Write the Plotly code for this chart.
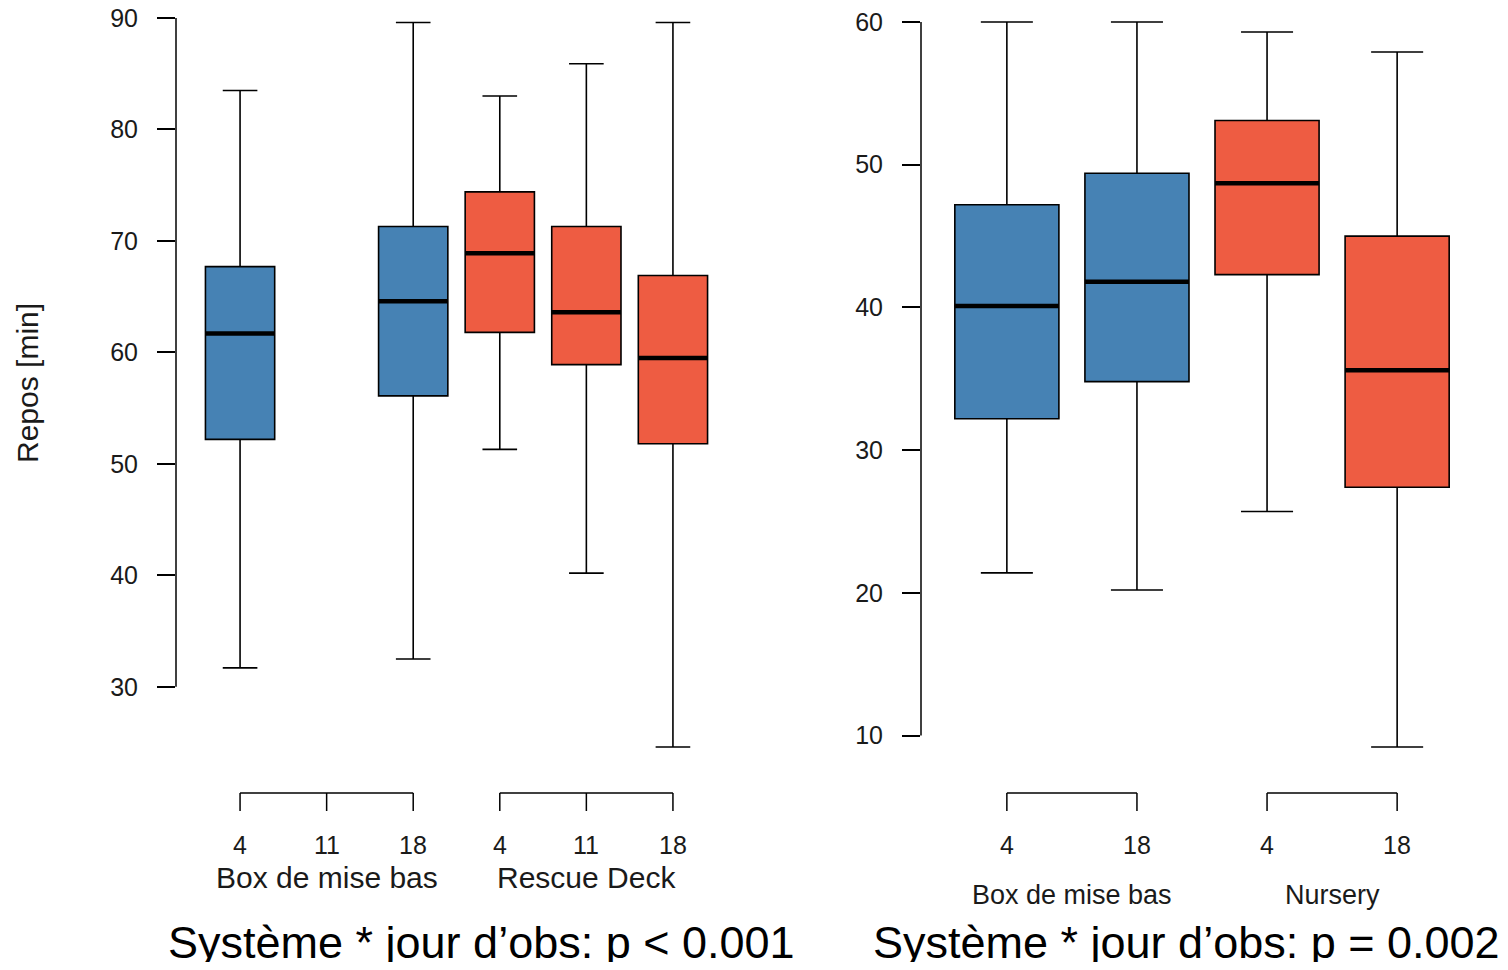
import plotly.graph_objects as go

# ---------------- data ----------------
# Left panel: Box de mise bas (days 4, 11, 18) vs Rescue Deck (days 4, 11, 18)
left_tick_pos = [1, 2, 3, 4, 5, 6]
left_tick_text = ["4", "11", "18", "4", "11", "18"]
left_groups = ["Box de mise bas", "Rescue Deck"]
left_group_span = [(1, 3), (4, 6)]

left_pos = [1, 3, 4, 5, 6]
left_system = ["Box de mise bas", "Box de mise bas", "Rescue Deck", "Rescue Deck", "Rescue Deck"]
left_low = [31.7, 32.5, 51.3, 40.2, 24.6]
left_q1 = [52.2, 56.1, 61.8, 58.9, 51.8]
left_med = [61.7, 64.6, 68.9, 63.6, 59.5]
left_q3 = [67.7, 71.3, 74.4, 71.3, 66.9]
left_high = [83.5, 89.6, 83.0, 85.9, 89.6]
left_yticks = [30, 40, 50, 60, 70, 80, 90]

# Right panel: Box de mise bas (days 4, 18) vs Nursery (days 4, 18)
right_tick_pos = [1, 2, 3, 4]
right_tick_text = ["4", "18", "4", "18"]
right_groups = ["Box de mise bas", "Nursery"]
right_group_span = [(1, 2), (3, 4)]

right_pos = [1, 2, 3, 4]
right_system = ["Box de mise bas", "Box de mise bas", "Nursery", "Nursery"]
right_low = [21.4, 20.2, 25.7, 9.2]
right_q1 = [32.2, 34.8, 42.3, 27.4]
right_med = [40.1, 41.8, 48.7, 35.6]
right_q3 = [47.2, 49.4, 53.1, 45.0]
right_high = [60.0, 60.0, 59.3, 57.9]
right_yticks = [10, 20, 30, 40, 50, 60]

captions = ["Système * jour d’obs: p < 0.001", "Système * jour d’obs: p = 0.002"]
y_title = "Repos [min]"

# ---------------- style ----------------
OFF = 8                      # page body margin of the html page
W, H = 1508 - 2 * OFF, 970 - 2 * OFF
PLOT_BOTTOM = 776 - OFF      # pixel in figure coordinates
BLUE = "#4682B4"
RED = "#EE5C42"
color_of = {"Box de mise bas": BLUE, "Rescue Deck": RED, "Nursery": RED}
FONT = "Liberation Sans, Arial, sans-serif"
TXT = "#1a1a1a"
BOXW = 0.8


def py(page_pixel):
    return (PLOT_BOTTOM - (page_pixel - OFF)) / PLOT_BOTTOM


def px(page_pixel):
    return (page_pixel - OFF) / W


fig = go.Figure()
shapes = []
annotations = []

panels = [
    dict(xa="x", ya="y", pos=left_pos, sys=left_system, low=left_low, q1=left_q1, med=left_med,
         q3=left_q3, high=left_high, tpos=left_tick_pos, ttext=left_tick_text,
         groups=left_groups, spans=left_group_span, yticks=left_yticks,
         group_y=877, group_size=30, cap_x=481),
    dict(xa="x2", ya="y2", pos=right_pos, sys=right_system, low=right_low, q1=right_q1, med=right_med,
         q3=right_q3, high=right_high, tpos=right_tick_pos, ttext=right_tick_text,
         groups=right_groups, spans=right_group_span, yticks=right_yticks,
         group_y=895, group_size=27, cap_x=1186),
]

for i, p in enumerate(panels):
    for k in range(len(p["pos"])):
        fig.add_trace(go.Box(
            x=[p["pos"][k]], q1=[p["q1"][k]], median=[p["med"][k]], q3=[p["q3"][k]],
            lowerfence=[p["low"][k]], upperfence=[p["high"][k]],
            width=BOXW, whiskerwidth=0.5, fillcolor=color_of[p["sys"][k]],
            line=dict(color="black", width=1.6), boxpoints=False,
            xaxis=p["xa"], yaxis=p["ya"], showlegend=False, hoverinfo="skip",
        ))
    # thick median lines
    mx, my = [], []
    for k in range(len(p["pos"])):
        mx += [p["pos"][k] - BOXW / 2, p["pos"][k] + BOXW / 2, None]
        my += [p["med"][k], p["med"][k], None]
    fig.add_trace(go.Scatter(x=mx, y=my, mode="lines", line=dict(color="black", width=4.5),
                             xaxis=p["xa"], yaxis=p["ya"], showlegend=False, hoverinfo="skip"))

    # R-style y axis line spanning tick range
    shapes.append(dict(type="line", xref=p["xa"] + " domain", yref=p["ya"], x0=0, x1=0,
                       y0=min(p["yticks"]), y1=max(p["yticks"]),
                       line=dict(color="black", width=1.5)))

    # grouped x axis brackets
    for (a, b), g in zip(p["spans"], p["groups"]):
        shapes.append(dict(type="line", xref=p["xa"], yref="paper", x0=a, x1=b,
                           y0=py(793), y1=py(793), line=dict(color="black", width=1.5)))
        annotations.append(dict(xref=p["xa"], yref="paper", x=(a + b) / 2, y=py(p["group_y"]),
                                text=g, showarrow=False, xanchor="center", yanchor="middle",
                                font=dict(family=FONT, size=p["group_size"], color=TXT)))
    for tx, tt in zip(p["tpos"], p["ttext"]):
        shapes.append(dict(type="line", xref=p["xa"], yref="paper", x0=tx, x1=tx,
                           y0=py(793), y1=py(811), line=dict(color="black", width=1.5)))
        annotations.append(dict(xref=p["xa"], yref="paper", x=tx, y=py(845), text=tt,
                                showarrow=False, xanchor="center", yanchor="middle",
                                font=dict(family=FONT, size=25, color=TXT)))

    annotations.append(dict(xref="paper", yref="paper", x=px(p["cap_x"]), y=py(942),
                            text=captions[i], showarrow=False, xanchor="center", yanchor="middle",
                            font=dict(family=FONT, size=45, color="black")))

annotations.append(dict(xref="paper", yref="paper", x=px(27), y=py(383), text=y_title,
                        textangle=-90, showarrow=False, xanchor="center", yanchor="middle",
                        font=dict(family=FONT, size=30, color=TXT)))

yaxis_common = dict(showgrid=False, zeroline=False, showline=False, ticks="outside",
                    ticklen=18, tickwidth=1.5, tickcolor="black", automargin=False,
                    ticklabelstandoff=14, ticklabeloverflow="allow",
                    tickfont=dict(family=FONT, size=25, color=TXT))
xaxis_common = dict(visible=False, showgrid=False, zeroline=False, automargin=False)

fig.update_layout(
    width=W, height=H,
    margin=dict(l=0, r=0, t=0, b=H - PLOT_BOTTOM, autoexpand=False),
    paper_bgcolor="white", plot_bgcolor="white",
    showlegend=False,
    xaxis=dict(domain=[px(176), px(737)], range=[0.26, 6.74], **xaxis_common),
    xaxis2=dict(domain=[px(921), px(1483)], range=[0.34, 4.66], **xaxis_common),
    yaxis=dict(anchor="x", range=[22.0, 90.0 + (18 - OFF) / 11.15], tickvals=left_yticks, **yaxis_common),
    yaxis2=dict(anchor="x2", range=[7.17, 60.0 + (22 - OFF) / 14.28], tickvals=right_yticks, **yaxis_common),
    shapes=shapes,
    annotations=annotations,
)

fig.write_html("out.html")
